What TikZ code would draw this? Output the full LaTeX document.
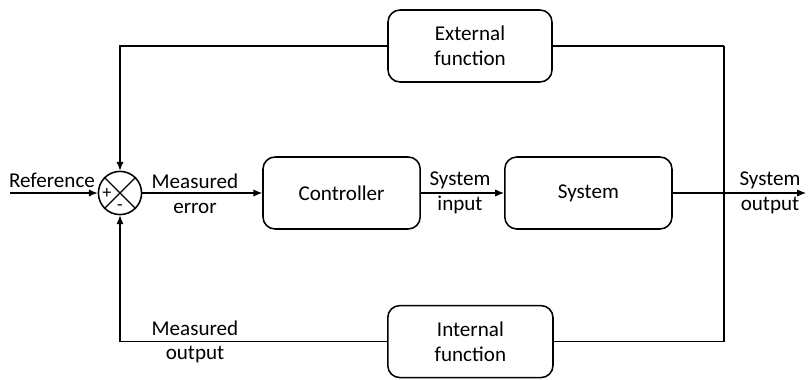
\documentclass[tikz,border=0pt]{standalone}
\usepackage{fontspec}
\setmainfont{Carlito}
\usetikzlibrary{arrows.meta}
\begin{document}
\begin{tikzpicture}[block/.style={draw, rounded corners=0.3cm, line width=1.1pt, minimum height=1.8cm, align=center},
	lbl/.style={align=center, font=\fontsize{15}{17.5}\selectfont},
	wire/.style={line width=0.8pt},
	sig/.style={wire, -{Latex[length=2.2mm, width=1.8mm]}},
	font=\fontsize{15}{17.5}\selectfont]
	\useasboundingbox (0,0) rectangle (20.2,9.5);

	% summing junction
	\node[draw, circle, line width=1.1pt, minimum size=1.08cm, inner sep=0pt] (sum) at (3,4.675) {};
	\draw[line width=0.8pt] (sum.45) -- (sum.225) (sum.135) -- (sum.-45);
	\node[font=\fontsize{13}{14}\selectfont, inner sep=0pt] (plus) at ([xshift=-0.33cm]sum.center) {+};
	\node[font=\fontsize{13}{14}\selectfont, inner sep=0pt] (minus) at ([yshift=-0.36cm]sum.center) {-};

	% blocks
	\node[block, minimum width=3.93cm] (controller) at (8.54,4.675) {Controller};
	\node[block, minimum width=4.18cm] (system) at (14.71,4.675) {System};
	\node[block, minimum width=4.1cm] (external) at (11.75,8.35) {External\\function};
	\node[block, minimum width=4.13cm] (internal) at (11.76,0.96) {Internal\\function};

	% corners and free ends
	\coordinate (ref) at (0.25,4.675);
	\coordinate (out) at (20.15,4.675);
	\coordinate (tapup) at (18.1,8.35);
	\coordinate (tapdown) at (18.1,0.96);
	\coordinate (leftup) at (3,8.35);
	\coordinate (leftdown) at (3,0.96);

	% labels
	\node[lbl] (reflbl) at (1.3,5.0) {Reference};
	\node[lbl] (errlbl) at (4.875,4.65) {Measured\\error};
	\node[lbl] (inlbl) at (11.5,4.675) {System\\input};
	\node[lbl] (outlbl) at (19.25,4.675) {System\\output};
	\node[lbl] (measlbl) at (4.875,0.95) {Measured\\output};

	% forward path
	\draw[sig] (ref) -- (sum.west);
	\draw[sig] (sum.east) -- (controller.west);
	\draw[sig] (controller.east) -- (system.west);
	\draw[sig] (system.east) -- (out);

	% feedback paths
	\draw[wire] (tapup) -- (tapdown);
	\draw[wire] (tapup) -- (external.east);
	\draw[sig] (external.west) -- (leftup) -- (sum.north);
	\draw[wire] (tapdown) -- (internal.east);
	\draw[sig] (internal.west) -- (leftdown) -- (sum.south);
\end{tikzpicture}
\end{document}
